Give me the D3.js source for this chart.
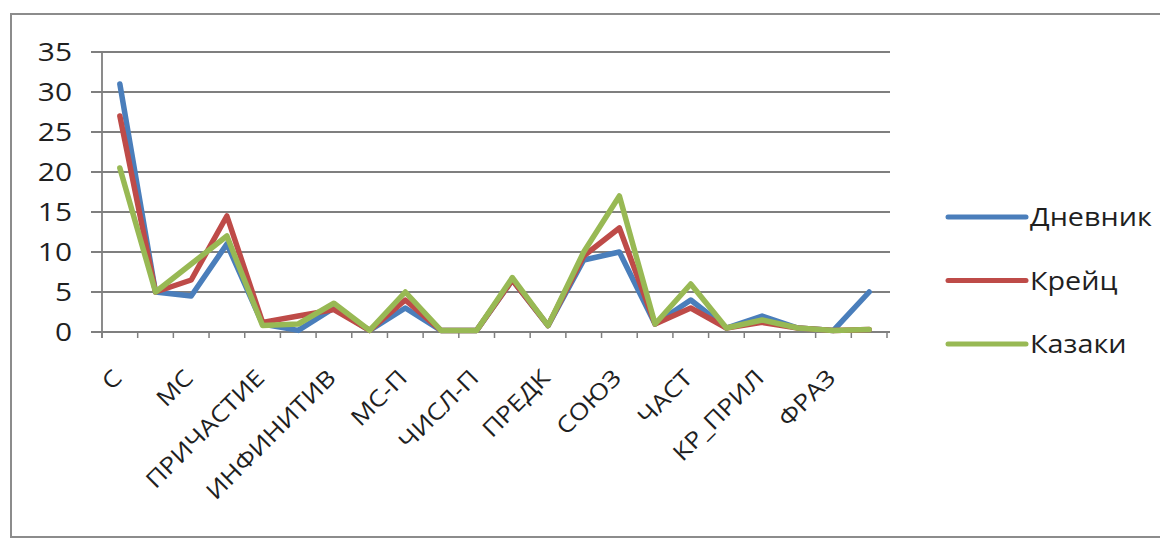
<!DOCTYPE html>
<html>
<head>
<meta charset="utf-8">
<script src="https://cdn.jsdelivr.net/npm/d3@7"></script>
<style>
  html, body { margin: 0; padding: 0; background: #fff; }
  svg { display: block; }
  text { font-family: "Open Sans", sans-serif; fill: #1f1f1f; }
</style>
</head>
<body>
<svg id="chart" width="1160" height="539"></svg>
<script>
// Parts of speech (only every other one gets a label on the axis)
const categories = [
  "С", "П", "МС", "Г", "ПРИЧАСТИЕ", "ДЕЕПРИЧАСТИЕ", "ИНФИНИТИВ", "Н",
  "МС-П", "ЧИСЛ", "ЧИСЛ-П", "ПРЕДЛ", "ПРЕДК", "ВВОДН", "СОЮЗ", "МЕЖД",
  "ЧАСТ", "КР_ПРИЧ", "КР_ПРИЛ", "СРАВН", "ФРАЗ", "ПРОЧ"
];

// Share of each part of speech, per text
const dnevnik = [31, 5, 4.5, 11, 1, 0.2, 3, 0.2, 3, 0.2, 0.2, 6.5, 0.8, 9, 10, 1, 4, 0.5, 2, 0.5, 0.2, 5];
const kreitz  = [27, 5, 6.5, 14.5, 1.2, 2, 2.8, 0.2, 4, 0.2, 0.2, 6.5, 0.8, 9.5, 13, 1, 3, 0.5, 1.2, 0.5, 0.2, 0.3];
const kazaki  = [20.5, 5, 8.5, 12, 0.8, 1, 3.6, 0.2, 5, 0.2, 0.2, 6.8, 0.8, 10, 17, 1, 6, 0.5, 1.5, 0.5, 0.2, 0.3];

const seriesNames = ["Дневник", "Крейц", "Казаки"];
const yTicks = [0, 5, 10, 15, 20, 25, 30, 35];

const series = [
  { name: seriesNames[0], values: dnevnik, color: "#4a7ebb" },
  { name: seriesNames[1], values: kreitz,  color: "#be4b48" },
  { name: seriesNames[2], values: kazaki,  color: "#98b954" }
];

const svg = d3.select("#chart");
const SX = 1.15; // horizontal stretch of the lettering

// outer frame
svg.append("path")
  .attr("d", "M1160,14 H11 V537 H1160")
  .attr("fill", "none").attr("stroke", "#8c8c8c").attr("stroke-width", 2);

const plot = { left: 102, right: 887, top: 52, bottom: 332 };

const x = d3.scaleBand().domain(categories).range([plot.left, plot.right]).padding(0);
const y = d3.scaleLinear().domain([0, 35]).range([plot.bottom, plot.top]);

// horizontal gridlines with left tick marks
svg.append("g").selectAll("line").data(yTicks).join("line")
  .attr("x1", plot.left - 11).attr("x2", plot.right + 3)
  .attr("y1", d => y(d)).attr("y2", d => y(d))
  .attr("stroke", "#7f7f7f").attr("stroke-width", 1.8);

// vertical axis line
svg.append("line")
  .attr("x1", plot.left).attr("x2", plot.left)
  .attr("y1", y(35)).attr("y2", y(0) + 6)
  .attr("stroke", "#7f7f7f").attr("stroke-width", 1.8);

// category boundary ticks below the x axis
const bounds = categories.map(c => x(c)).concat([plot.right]);
svg.append("g").selectAll("line").data(bounds).join("line")
  .attr("x1", d => d).attr("x2", d => d)
  .attr("y1", y(0)).attr("y2", y(0) + 6)
  .attr("stroke", "#7f7f7f").attr("stroke-width", 1.5);

// y tick labels
svg.append("g").selectAll("text").data(yTicks).join("text")
  .attr("transform", d => `translate(72,${y(d)}) scale(${SX},1)`)
  .attr("text-anchor", "end")
  .attr("dy", "0.36em")
  .style("font-size", "26px")
  .text(d => d);

// x tick labels, every other category, slanted at 45 degrees
const cx = c => x(c) + x.bandwidth() / 2;
svg.append("g").selectAll("text")
  .data(categories.filter((c, i) => i % 2 === 0))
  .join("text")
  .attr("transform", c => `translate(${cx(c) - 8},${y(0) + 36}) rotate(-45) scale(${SX},1)`)
  .attr("text-anchor", "end")
  .attr("dy", "0.7em")
  .style("font-size", "23px")
  .text(c => c);

// series lines
const line = d3.line()
  .x((d, i) => cx(categories[i]))
  .y(d => y(d));

svg.append("g").selectAll("path").data(series).join("path")
  .attr("d", s => line(s.values))
  .attr("fill", "none")
  .attr("stroke", s => s.color)
  .attr("stroke-width", 5.5)
  .attr("stroke-linejoin", "round")
  .attr("stroke-linecap", "round");

// legend
const legend = svg.append("g").selectAll("g").data(series).join("g")
  .attr("transform", (s, i) => `translate(948,${217 + i * 63.5})`);
legend.append("line")
  .attr("x1", 0).attr("x2", 78).attr("y1", 0).attr("y2", 0)
  .attr("stroke", s => s.color).attr("stroke-width", 5)
  .attr("stroke-linecap", "round");
legend.append("text")
  .attr("transform", `translate(82,0) scale(${SX},1)`)
  .attr("dy", "0.36em")
  .style("font-size", "25px")
  .text(s => s.name);
</script>
</body>
</html>
